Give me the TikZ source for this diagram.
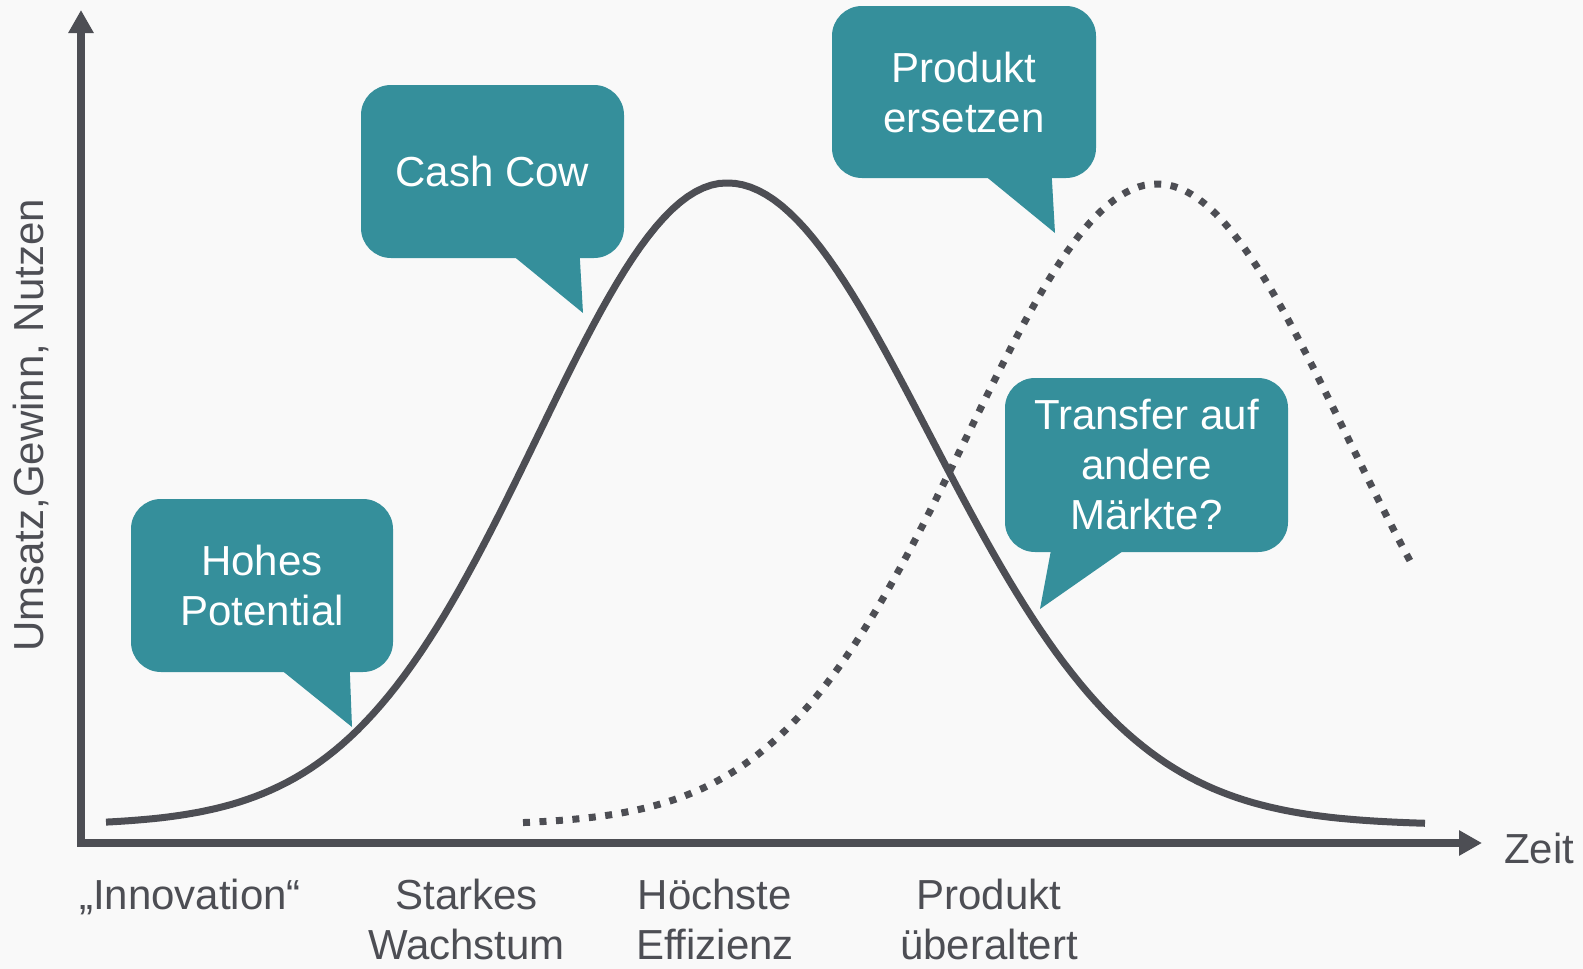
\documentclass[tikz,border=0pt]{standalone}
\usepackage{fontspec}
\setmainfont{Liberation Sans}
\usetikzlibrary{arrows.meta,positioning}
\definecolor{bubblecol}{RGB}{53,143,155}
\definecolor{inkcol}{RGB}{77,78,84}
\definecolor{paper}{RGB}{249,249,249}
\tikzset{
    %Define standard arrow tip
    >={Triangle[length=23pt,width=24pt]},
    %Define style for axes
    axis/.style={
           ->,
           line width=7.5pt,
           draw=inkcol,},
    %Define style for curves
    kurve/.style={
           line width=7pt,
           draw=inkcol,},
    nachfolger/.style={
           kurve,
           dash pattern=on 7pt off 9.5pt,},
    %Define style for speech bubbles
    bubble/.style={
           fill=bubblecol,
           rounded corners=30pt,
           text=white,
           align=center,
           inner sep=0pt,},
    tail/.style={
           fill=bubblecol,},
    %Define style for phase labels
    stufe/.style={
           anchor=north,
           align=center,
           text=inkcol,
           inner sep=0pt,}
}

\begin{document}
\begin{tikzpicture}[x=1pt, y=-1pt, font=\fontsize{42}{50}\selectfont]
 \useasboundingbox (0,0) rectangle (1583,969);
 \fill[paper] (0,0) rectangle (1583,969);

 %axes
 \coordinate (origin) at (81,843);
 \coordinate (ytip) at (81,10);
 \coordinate (xtip) at (1482,843);
 \draw[axis] ([yshift=-3.75pt]origin) -- (ytip);
 \draw[axis] ([xshift=-3.75pt]origin) -- (xtip);
 \node[right=22pt of xtip, yshift=-5pt, inner sep=0pt, text=inkcol] (zeit) {Zeit};
 \node[rotate=90, anchor=base, inner sep=0pt, text=inkcol] (yachse) at (43,425.5) {Umsatz,Gewinn, Nutzen};

 %curves
 \draw[kurve] plot[domain=106:727, samples=80] (\x, {825-642*exp(-0.5*((\x-727)/189)*((\x-727)/189))})
   -- plot[domain=727:1425, samples=90] (\x, {825-642*exp(-0.5*((\x-727)/203)*((\x-727)/203))});
 \draw[nachfolger] plot[domain=523:1413, samples=150] (\x, {825-641*exp(-0.5*((\x-1157)/190)*((\x-1157)/190))});

 %bubbles
 \node[bubble, minimum width=262pt, minimum height=173pt] (hohes) at (262,585.5) {Hohes\\Potential};
 \coordinate (hohestip) at (352,727);
 \fill[tail] ([xshift=152pt,yshift=1pt]hohes.south west) -- ([xshift=219pt,yshift=1pt]hohes.south west) -- (hohestip) -- cycle;

 \node[bubble, minimum width=263pt, minimum height=173pt] (cashcow) at (492.5,171.5) {Cash Cow};
 \coordinate (cashcowtip) at (583,313);
 \fill[tail] ([xshift=154pt,yshift=1pt]cashcow.south west) -- ([xshift=219pt,yshift=1pt]cashcow.south west) -- (cashcowtip) -- cycle;

 \node[bubble, minimum width=264pt, minimum height=172pt] (ersetzen) at (964,92) {Produkt\\ersetzen};
 \coordinate (ersetzentip) at (1055,233);
 \fill[tail] ([xshift=155pt,yshift=1pt]ersetzen.south west) -- ([xshift=220pt,yshift=1pt]ersetzen.south west) -- (ersetzentip) -- cycle;

 \node[bubble, minimum width=283pt, minimum height=174pt] (transfer) at (1146.5,465) {Transfer auf\\andere\\Märkte?};
 \coordinate (transfertip) at (1040,609);
 \fill[tail] ([xshift=46pt,yshift=1pt]transfer.south west) -- ([xshift=118pt,yshift=1pt]transfer.south west) -- (transfertip) -- cycle;

 %phases
 \node[stufe] (innovation) at (190,879) {„Innovation“};
 \node[stufe] (wachstum) at (466.5,879) {Starkes\\Wachstum};
 \node[stufe] (effizienz) at (715,879) {Höchste\\Effizienz};
 \node[stufe] (ueberaltert) at (989,879) {Produkt\\überaltert};

\end{tikzpicture}
\end{document}
